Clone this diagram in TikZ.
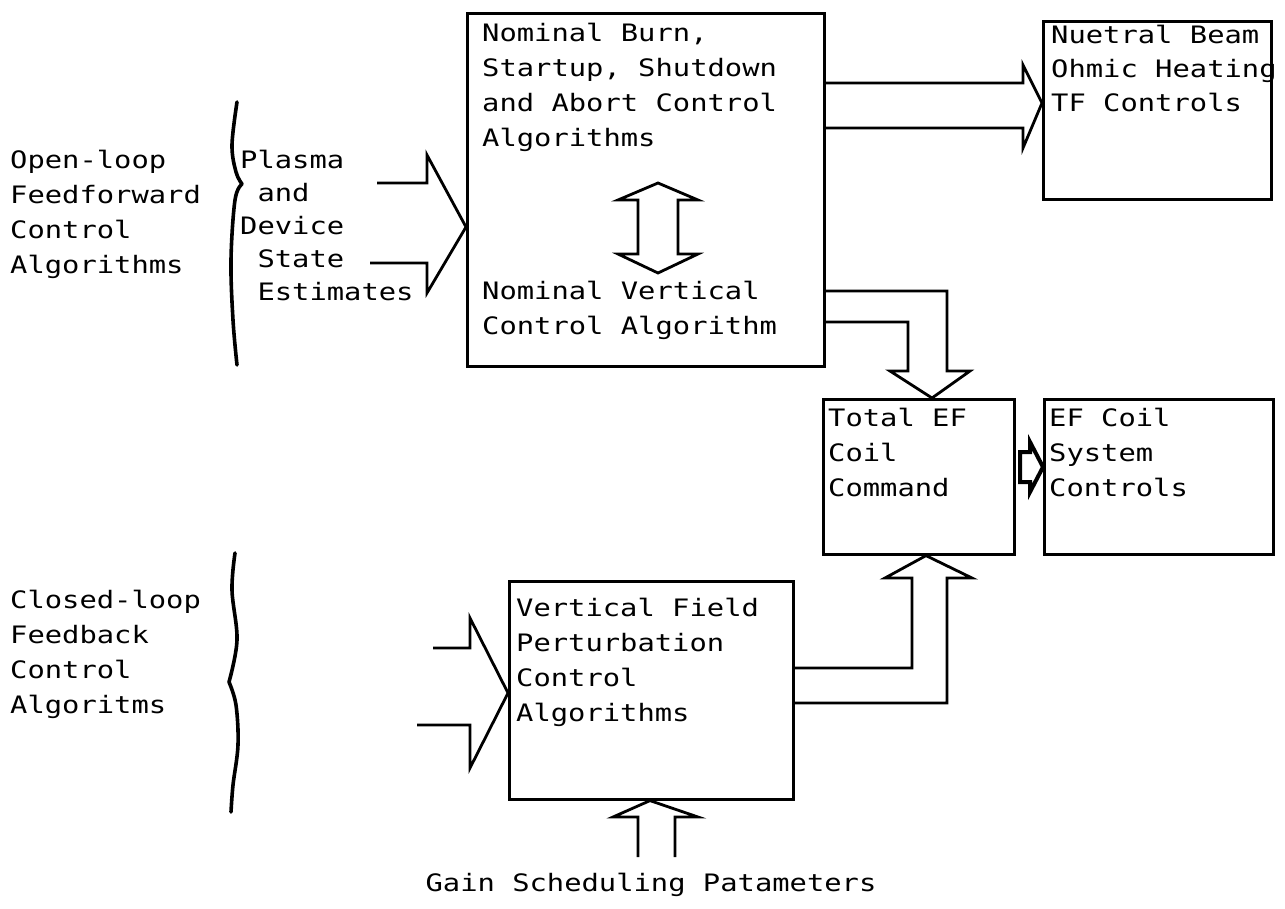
\documentclass[tikz,border=0pt]{standalone}
\usepackage{fontspec}
\newfontfamily\typew{DejaVu Sans Mono}[FakeStretch=1.2]
\newcommand{\ind}{\phantom{x}}

\tikzset{
  blk/.style={draw, line width=2.6pt, anchor=north west, inner sep=0pt},
  txt/.style={anchor=north west, inner sep=0pt, align=left},
  fat/.style={line width=2.8pt, line join=miter},
  brc/.style={line width=3.6pt, line cap=round}
}

\begin{document}
\begin{tikzpicture}[x=1pt, y=-1pt, font=\typew\fontsize{24}{35}\selectfont]
\useasboundingbox (0,0) rectangle (1285,908);
% blocks
\node[blk, minimum width=357pt, minimum height=353pt] (algo) at (466,12) {};
\node[blk, minimum width=228pt, minimum height=178pt] (beam) at (1042,20) {};
\node[blk, minimum width=191pt, minimum height=155pt] (total) at (822,398) {};
\node[blk, minimum width=229pt, minimum height=155pt] (efcoil) at (1043,398) {};
\node[blk, minimum width=284pt, minimum height=218pt] (vfield) at (508,580) {};
% texts
\node[txt] (algotop) at (482,23) {Nominal Burn,\\Startup, Shutdown\\and Abort Control\\Algorithms};
\node[txt] (algobot) at (482,281) {Nominal Vertical\\Control Algorithm};
\node[txt, font=\typew\fontsize{24}{34}\selectfont] (beamtxt) at (1051,25) {Nuetral Beam\\Ohmic Heating\\TF Controls};
\node[txt] (totaltxt) at (828,408) {Total EF\\Coil\\Command};
\node[txt] (eftxt) at (1049,408) {EF Coil\\System\\Controls};
\node[txt] (vftxt) at (516,598) {Vertical Field\\Perturbation\\Control\\Algorithms};
\node[txt] (ffwd) at (10,150) {Open-loop\\Feedforward\\Control\\Algorithms};
\node[txt] (fback) at (10,590) {Closed-loop\\Feedback\\Control\\Algoritms};
\node[txt, font=\typew\fontsize{24}{33}\selectfont] (state) at (240,150) {Plasma\\\ind and\\Device\\\ind State\\\ind Estimates};
\node[anchor=center, inner sep=0pt] (gain) at (651,885) {Gain Scheduling Patameters};
% braces
\draw[brc] plot[smooth, tension=0.6] coordinates {(237,102) (232,145) (236,172) (242,184)};
\draw[brc] plot[smooth, tension=0.6] coordinates {(242,184) (235,200) (231,260) (233,320) (237,365)};
\draw[brc] plot[smooth, tension=0.6] coordinates {(235,553) (232,590) (237,640) (229,682)};
\draw[brc] plot[smooth, tension=0.6] coordinates {(229,682) (236,705) (238,745) (233,785) (231,812)};
% fat arrows
\draw[fat] (377,183) -- (427,183) -- (427,155) -- (algo.west |- 0,227) -- (427,293) -- (427,263) -- (370,263);
\draw[fat] (algo.east |- 0,83) -- (1023,83) -- (1023,65) -- (beam.west |- 0,103) -- (1023,148) -- (1023,128) -- (algo.east |- 0,128);
\draw[fat] (658,183) -- (698,200) -- (678,200) -- (678,254) -- (698,254) -- (658,273) -- (618,254) -- (638,254) -- (638,200) -- (618,200) -- cycle;
\draw[fat] (algo.east |- 0,291) -- (947,291) -- (947,371) -- (970,371) -- (total.north -| 932,0) -- (890,371) -- (908,371) -- (908,322) -- (algo.east |- 0,322);
\draw[fat] (vfield.east |- 0,703) -- (947,703) -- (947,578) -- (972,578) -- (total.south -| 926,0) -- (885,578) -- (912,578) -- (912,668) -- (vfield.east |- 0,668);
\draw[fat] (433,648) -- (470,648) -- (470,618) -- (vfield.west |- 0,693) -- (470,768) -- (470,725) -- (417,725);
\draw[fat] (638,857) -- (638,817) -- (613,817) -- (vfield.south -| 650,0) -- (698,817) -- (675,817) -- (675,857);
\draw[fat, line width=4pt] (1020,452) -- (1030,452) -- (1030,442) -- (efcoil.west |- 0,467) -- (1030,492) -- (1030,482) -- (1020,482) -- cycle;
\end{tikzpicture}
\end{document}
